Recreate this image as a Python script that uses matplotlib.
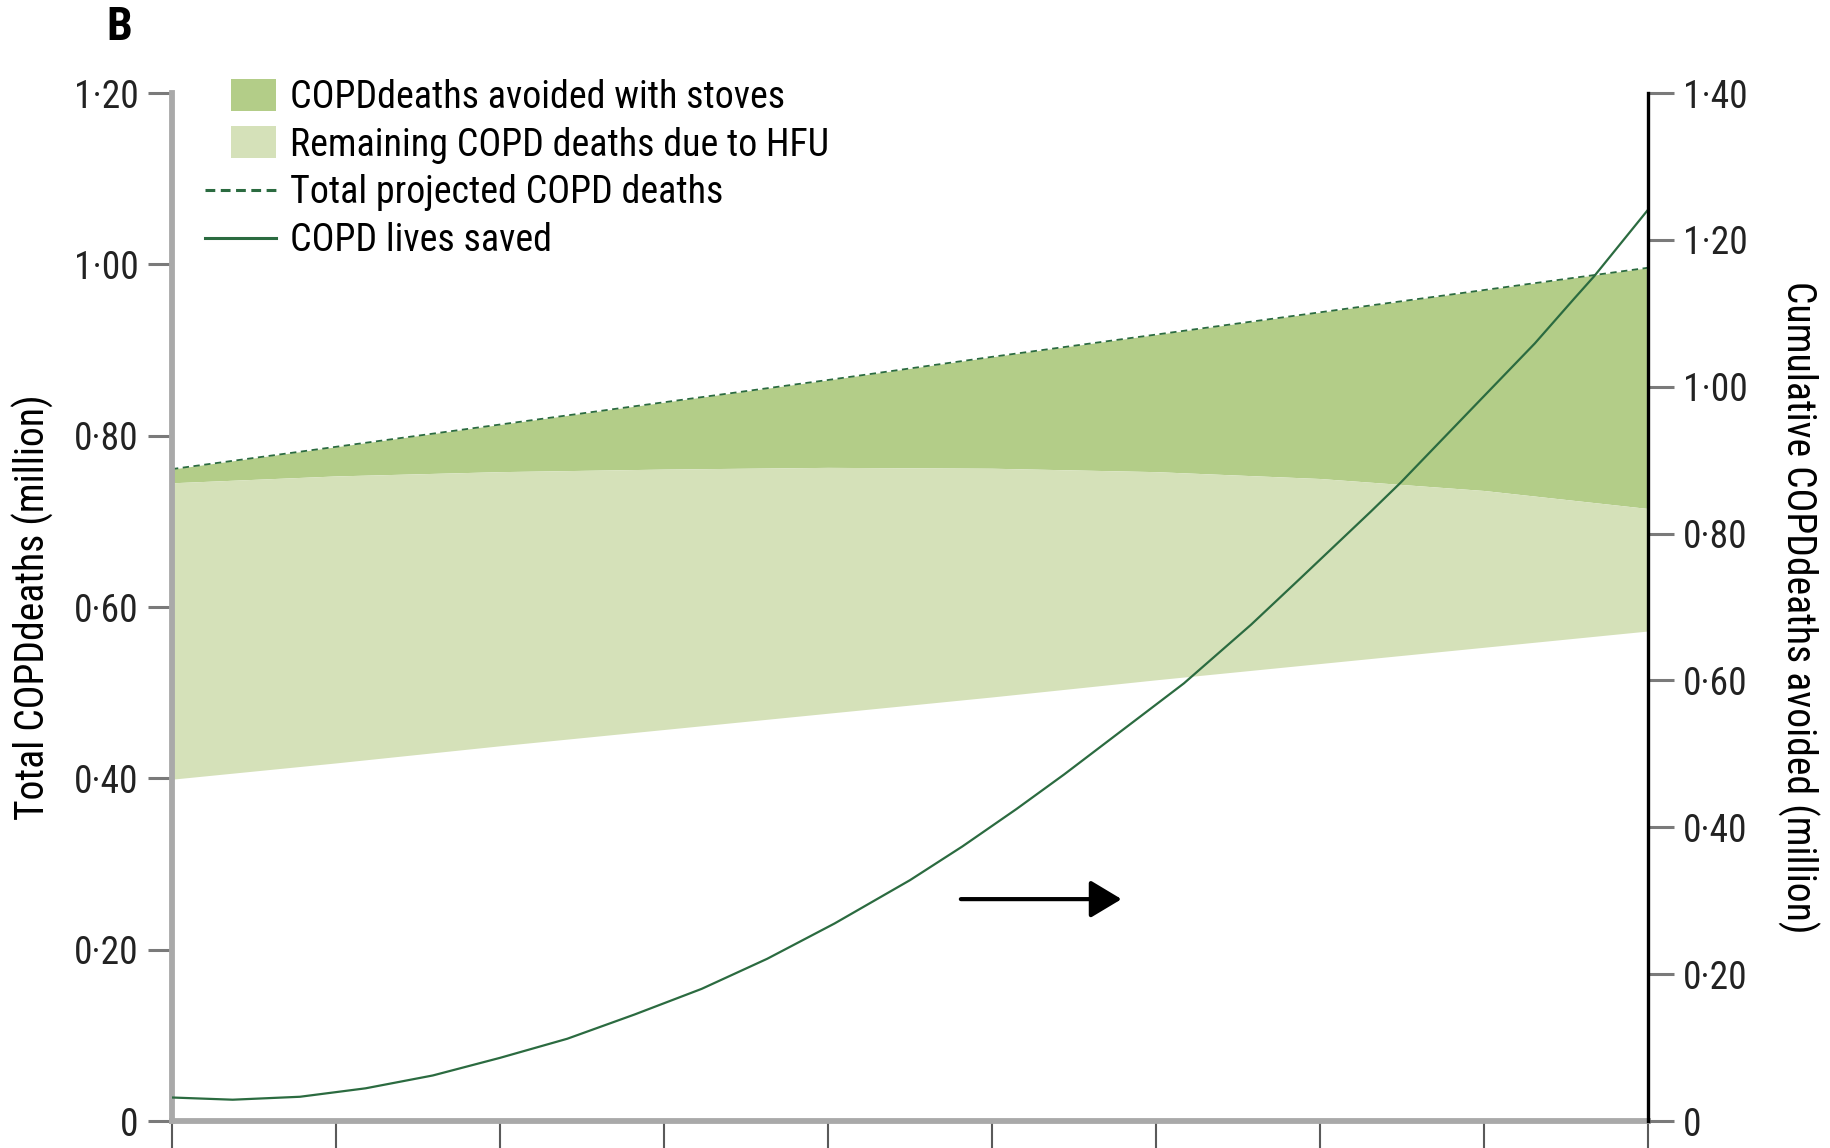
import matplotlib
matplotlib.use("Agg")
import matplotlib.pyplot as plt
from matplotlib import font_manager as fm
from matplotlib.patches import Patch, Rectangle
from matplotlib.lines import Line2D
from matplotlib.legend_handler import HandlerPatch

# ---- data (million deaths) ----
years = [0, 1, 2, 3, 4, 5, 6, 7, 8, 9]
total_projected = [0.761, 0.787, 0.813, 0.839, 0.865, 0.892, 0.918, 0.944, 0.970, 0.996]
remaining_hfu_top = [0.745, 0.753, 0.758, 0.761, 0.763, 0.762, 0.758, 0.750, 0.736, 0.715]
remaining_hfu_base = [0.399, 0.418, 0.438, 0.457, 0.476, 0.495, 0.515, 0.534, 0.553, 0.572]

saved_years = [0, 0.37, 0.78, 1.18, 1.59, 2.0, 2.41, 2.82, 3.23, 3.63, 4.04, 4.5,
               4.82, 5.15, 5.44, 5.97, 6.17, 6.58, 6.88, 7.31, 7.49, 7.93, 8.31,
               8.55, 8.67, 9.0]
lives_saved_cum = [0.032, 0.029, 0.033, 0.0445, 0.062, 0.086, 0.112, 0.145, 0.180,
                   0.221, 0.269, 0.328, 0.374, 0.425, 0.472, 0.562, 0.596, 0.676,
                   0.739, 0.830, 0.869, 0.971, 1.059, 1.120, 1.150, 1.241]

left_ticks = [0, 0.2, 0.4, 0.6, 0.8, 1.0, 1.2]
left_ticklabels = ["0", "0·20", "0·40", "0·60", "0·80", "1·00", "1·20"]
right_ticks = [0, 0.2, 0.4, 0.6, 0.8, 1.0, 1.2, 1.4]
right_ticklabels = ["0", "0·20", "0·40", "0·60", "0·80", "1·00", "1·20", "1·40"]

legend_labels = ["COPDdeaths avoided with stoves", "Remaining COPD deaths due to HFU",
                 "Total projected COPD deaths", "COPD lives saved"]

# arrow pointing to the right-hand axis (x in years, y on left scale)
arrow_from = (4.81, 0.259)
arrow_to = (5.79, 0.259)


# ---- font: prefer a narrow / condensed sans face if one is installed ----
def find_narrow_font():
    order = ["Liberation Sans Narrow", "Roboto Condensed", "Open Sans Condensed",
             "Noto Sans", "DejaVu Sans", "Open Sans", "Roboto", "Lato", "Inter"]
    found = []
    for f in fm.fontManager.ttflist:
        st = f.stretch
        narrow_stretch = (st in ("condensed", "semi-condensed", "extra-condensed")
                          or (isinstance(st, (int, float)) and st < 500))
        narrow_name = ("Narrow" in f.name) or ("Condensed" in f.name)
        if (narrow_stretch or narrow_name) and f.style == "normal" \
                and f.weight in (400, "normal", "regular", "book"):
            rank = order.index(f.name) if f.name in order else len(order)
            found.append((rank, f.name, st))
    if not found:
        return "Liberation Sans", "normal"
    found.sort(key=lambda t: t[0])
    return found[0][1], found[0][2]


family, stretch = find_narrow_font()
plt.rcParams["font.family"] = [family, "DejaVu Sans"]
plt.rcParams["font.stretch"] = stretch

# ---- style ----
DARK_FILL = "#b3cd88"
LIGHT_FILL = "#d5e1b9"
LINE_GREEN = "#2b6b40"
SPINE_GREY = "#a9a9a9"
TICK_GREY = "#7a7a7a"

W, H = 1831, 1148
fig = plt.figure(figsize=(W / 100, H / 100), dpi=100)
ax = fig.add_axes([172 / W, 1 - 1121 / H, (1648 - 172) / W, (1121 - 93) / H])
ax2 = ax.twinx()

ax.fill_between(years, remaining_hfu_top, total_projected, color=DARK_FILL, lw=0)
ax.fill_between(years, remaining_hfu_base, remaining_hfu_top, color=LIGHT_FILL, lw=0)
ax.plot(years, total_projected, color=LINE_GREEN, lw=1.3, ls=(0, (3.5, 2.5)))

ax2.plot(saved_years, lives_saved_cum, color=LINE_GREEN, lw=1.6,
         solid_joinstyle="round")

ax.annotate("", xy=arrow_to, xytext=arrow_from,
            arrowprops=dict(arrowstyle="-|>,head_length=0.4,head_width=0.24",
                            mutation_scale=48, lw=3, color="black",
                            shrinkA=0, shrinkB=0))

# axes ranges
ax.set_xlim(0, 9)
ax.set_ylim(0, 1.2)
ax2.set_ylim(0, 1.4)
ax.set_xticks(years)
ax.set_xticklabels([])

ax.set_yticks(left_ticks)
ax.set_yticklabels(left_ticklabels)
ax2.set_yticks(right_ticks)
ax2.set_yticklabels(right_ticklabels)

for a in (ax, ax2):
    a.patch.set_visible(False)
    for s in a.spines.values():
        s.set_visible(False)

ax.spines["left"].set_visible(True)
ax.spines["left"].set_color(SPINE_GREY)
ax.spines["left"].set_linewidth(4.2)
ax.spines["bottom"].set_visible(True)
ax.spines["bottom"].set_color(SPINE_GREY)
ax.spines["bottom"].set_linewidth(4.2)
ax2.spines["right"].set_visible(True)
ax2.spines["right"].set_color("black")
ax2.spines["right"].set_linewidth(2.4)

ax.tick_params(axis="x", direction="out", length=22, width=1.5, color="#5a5a5a")
ax.tick_params(axis="y", direction="out", length=17, width=2.2, color=TICK_GREY,
               labelsize=27, pad=7, labelcolor="#222222")
ax2.tick_params(axis="y", direction="out", length=19, width=2.2, color=TICK_GREY,
                labelsize=27, pad=6, labelcolor="#222222")

ax.set_ylabel("Total COPDdeaths (million)", fontsize=28.5, va="center")
ax.yaxis.set_label_coords(-(172 - 33) / (1648 - 172), 0.5)
ax2.set_ylabel("Cumulative COPDdeaths avoided (million)", fontsize=28.5, rotation=270,
               va="center")
ax2.yaxis.set_label_coords(1 + (1798 - 1648) / (1648 - 172), 0.5)


# ---- legend ----
def right_box(legend, orig_handle, xdescent, ydescent, width, height, fontsize):
    w, h = 0.63 * width, 1.2 * height
    return Rectangle((-xdescent + width - w, -ydescent + (height - h) / 2), w, h)


handles = [Patch(facecolor=DARK_FILL, edgecolor="none"),
           Patch(facecolor=LIGHT_FILL, edgecolor="none"),
           Line2D([], [], color=LINE_GREEN, lw=2.2, ls=(0, (3.2, 1.8))),
           Line2D([], [], color=LINE_GREEN, lw=2.2)]
ax2.legend(handles, legend_labels, loc="upper left",
           bbox_to_anchor=(205 / W, 1 - 79 / H), bbox_transform=fig.transFigure,
           frameon=False, fontsize=27.4, handlelength=1.87, handletextpad=0.37,
           labelspacing=0.28, borderpad=0, borderaxespad=0,
           handler_map={Patch: HandlerPatch(patch_func=right_box)})

fig.text(119 / W, 1 - 27 / H, "B", fontsize=33, fontweight="bold",
         ha="center", va="center")

fig.savefig("out.png", dpi=100)
